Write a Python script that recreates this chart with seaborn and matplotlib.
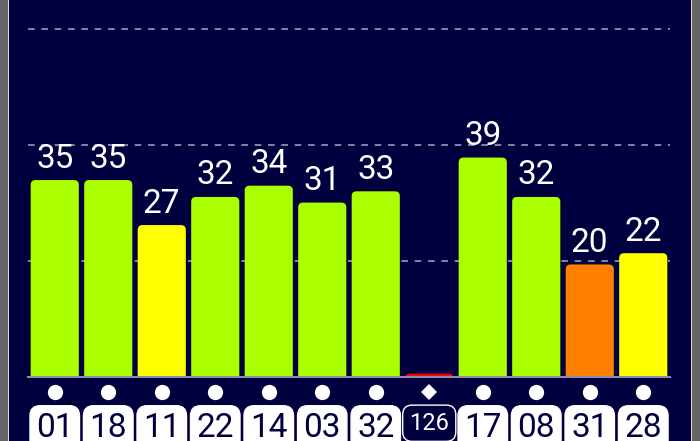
import numpy as np
import pandas as pd
import seaborn as sns
import matplotlib.pyplot as plt
from matplotlib.patches import Rectangle, FancyBboxPatch

# satellite ids, signal values and bar colours
sat_ids = ["01", "18", "11", "22", "14", "03", "32", "126", "17", "08", "31", "28"]
snr = [35, 35, 27, 32, 34, 31, 33, 0.6, 39, 32, 20, 22]
bar_colors = ["#aaff00", "#aaff00", "#ffff00", "#aaff00", "#aaff00", "#aaff00",
              "#aaff00", "#ff0000", "#aaff00", "#aaff00", "#ff8000", "#ffff00"]
value_labels = ["35", "35", "27", "32", "34", "31", "33", "", "39", "32", "20", "22"]
markers = ["o", "o", "o", "o", "o", "o", "o", "D", "o", "o", "o", "o"]
grid_levels = [20.6, 41.3, 61.9]

navy = "#00003f"
df = pd.DataFrame({"sat": sat_ids, "snr": snr})

fig = plt.figure(figsize=(7, 4.41), dpi=100)
fig.patch.set_facecolor("#666666")
fig.patches.append(Rectangle((8 / 700, 0), 683 / 700, 1, transform=fig.transFigure,
                             facecolor=navy, edgecolor="none", zorder=-10))
for xe in (7.5 / 700, 691 / 700):
    fig.patches.append(Rectangle((xe, 0), 1.2 / 700, 1, transform=fig.transFigure,
                                 facecolor="#d8d8d8", edgecolor="none", zorder=-10))

ax = fig.add_axes([28 / 700, (441 - 377) / 441, 642 / 700, 377 / 441])
ax.set_facecolor("none")

sns.barplot(data=df, x="sat", y="snr", hue="sat", palette=bar_colors, legend=False,
            width=0.9, ax=ax, saturation=1, zorder=3)

# value labels above bars
for i, (v, lab) in enumerate(zip(snr, value_labels)):
    ax.annotate(lab, (i, v), xytext=(0, 4), textcoords="offset points",
                ha="center", va="bottom", color="white", fontsize=24, zorder=5,
                family=["Roboto", "DejaVu Sans"])

# rounded tops on the bars
for p in list(ax.patches):
    x0, y0 = p.get_x(), p.get_y()
    w, h = p.get_width(), p.get_height()
    fc = p.get_facecolor()
    p.remove()
    rb = FancyBboxPatch((x0, y0 - 2), w, h + 2, boxstyle="round,pad=0,rounding_size=0.09",
                        mutation_aspect=9.5, facecolor=fc, edgecolor="none", zorder=3)
    ax.add_patch(rb)

ax.set_xlim(-0.5, len(sat_ids) - 0.5)
ax.set_ylim(0, 67)

for g in grid_levels:
    ax.axhline(g, color="#9a9ab8", lw=1.2, ls=(0, (4, 4)), zorder=1)
ax.axhline(0, color="#8c8cb0", lw=1.5, zorder=4, clip_on=False)

for s in ax.spines.values():
    s.set_visible(False)
ax.set_yticks([])
ax.set_xlabel("")
ax.set_ylabel("")

# markers under the axis
for i, m in enumerate(markers):
    ax.plot(i, -0.04, marker=m, color="white", ms=11 if m == "o" else 8, mew=0,
            transform=ax.get_xaxis_transform(), clip_on=False)

ax.set_xticks(range(len(sat_ids)))
ax.set_xticklabels(sat_ids)
ax.tick_params(axis="x", length=0, pad=25)
for lab, sid in zip(ax.get_xticklabels(), sat_ids):
    if sid == "126":
        lab.set_fontsize(17)
        lab.set_color("white")
        lab.set_bbox(dict(boxstyle="round,pad=0.28,rounding_size=0.4", fc=navy,
                          ec="white", lw=1))
    else:
        lab.set_fontsize(24)
        lab.set_color(navy)
        lab.set_bbox(dict(boxstyle="round,pad=0.18,rounding_size=0.3", fc="white",
                          ec="white", lw=1))
    lab.set_family(["Roboto", "DejaVu Sans"])

fig.savefig("out.png", dpi=100, facecolor=fig.get_facecolor())
